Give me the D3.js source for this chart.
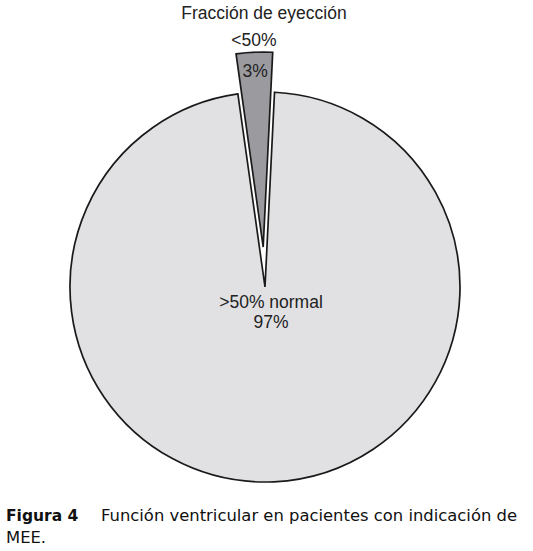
<!DOCTYPE html>
<html>
<head>
<meta charset="utf-8">
<script src="https://cdn.jsdelivr.net/npm/d3@7"></script>
<style>
  body { margin: 0; background: #fff; }
</style>
</head>
<body>
<script>
var width = 533, height = 551

// data
var categories = ["<50%", ">50% normal"]
var values = [3, 97]
var pctLabels = ["3%", "97%"]
var title = "Fracción de eyección"

var cx = 265, cy = 287, radius = 195
var explode = 40
var startDeg = -8
var labelFont = "Liberation Sans, Arial, sans-serif"

var svg = d3.select("body").append("svg")
    .attr("width", width).attr("height", height)

svg.append("text")
    .attr("x", 264).attr("y", 19)
    .attr("text-anchor", "middle")
    .style("font-family", labelFont)
    .style("font-size", "17.5px")
    .attr("fill", "#222")
    .text(title)

var pie = d3.pie().sort(null).value(d => d)
    .startAngle(startDeg * Math.PI / 180)
    .endAngle(startDeg * Math.PI / 180 + 2 * Math.PI)
var arcs = pie(values)

var arc = d3.arc().innerRadius(0).outerRadius(radius)
var fills = ["#9b9b9f", "#e1e1e3"]

var g = svg.append("g").attr("transform", "translate(" + cx + "," + cy + ")")

g.selectAll("path").data(arcs).enter().append("path")
    .attr("d", arc)
    .attr("transform", (d, i) => {
        if (i != 0) return null
        var a = (d.startAngle + d.endAngle) / 2
        return "translate(" + (Math.sin(a) * explode) + "," + (-Math.cos(a) * explode) + ")"
    })
    .attr("fill", (d, i) => fills[i])
    .attr("stroke", "#1a1a1a")
    .attr("stroke-width", 1.7)
    .attr("stroke-linejoin", "miter")

// labels
var small = arcs[0]
var sa = (small.startAngle + small.endAngle) / 2
g.append("text")
    .attr("x", Math.sin(sa) * (radius + explode + 10))
    .attr("y", -Math.cos(sa) * (radius + explode + 10) + 4)
    .attr("text-anchor", "middle")
    .style("font-family", labelFont)
    .style("font-size", "17.5px").attr("fill", "#222")
    .text(categories[0])
g.append("text")
    .attr("x", Math.sin(sa) * (radius + explode - 20))
    .attr("y", -Math.cos(sa) * (radius + explode - 20) + 5)
    .attr("text-anchor", "middle")
    .style("font-family", labelFont)
    .style("font-size", "17.5px").attr("fill", "#222")
    .text(pctLabels[0])

var big = g.append("text")
    .attr("x", 6).attr("y", 21)
    .attr("text-anchor", "middle")
    .style("font-family", labelFont)
    .style("font-size", "17.5px").attr("fill", "#222")
big.append("tspan").attr("x", 6).attr("dy", 0).text(categories[1])
big.append("tspan").attr("x", 6).attr("dy", 20).text(pctLabels[1])

// caption
var cap = svg.append("text")
    .attr("x", 6).attr("y", 521)
    .style("font-family", "DejaVu Sans, sans-serif")
    .style("font-size", "16.4px").attr("fill", "#111")
cap.append("tspan").style("font-weight", "bold").style("font-size", "15.5px").text("Figura 4")
cap.append("tspan").attr("x", 101).text("Función ventricular en pacientes con indicación de")
svg.append("text")
    .attr("x", 6).attr("y", 543)
    .style("font-family", "DejaVu Sans, sans-serif")
    .style("font-size", "16.4px").attr("fill", "#111")
    .text("MEE.")
</script>
</body>
</html>
